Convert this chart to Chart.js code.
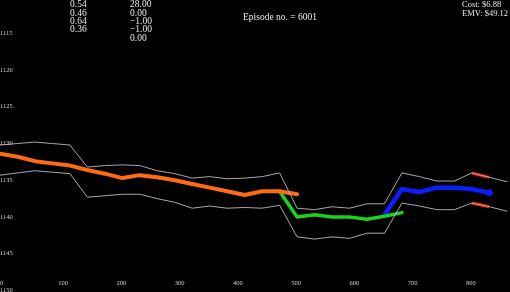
<!DOCTYPE html>
<html>
<head>
<meta charset="utf-8">
<script src="https://cdn.jsdelivr.net/npm/chart.js@4/dist/chart.umd.min.js"></script>
<style>
    body { margin: 0; background: #000; }
    #wrap { width: 510px; height: 292px; position: relative; }
</style>
</head>
<body>
<div id="wrap"><canvas id="episodeChart" width="510" height="292"></canvas></div>
<script>
// step positions along the x axis
const steps = [0, 30, 60, 90, 120, 150, 180, 210, 240, 270, 300, 330, 360, 390, 420,
    450, 480, 510, 540, 570, 600, 630, 660, 690, 720, 750, 780, 810, 840, 870];

const upperBand = [1130.2, 1130.0, 1129.8, 1130.0, 1130.2, 1133.2, 1133.0, 1132.9, 1133.0, 1133.7,
    1134.1, 1134.7, 1134.5, 1134.8, 1134.7, 1134.5, 1134.0, 1138.8, 1139.0, 1138.6,
    1138.8, 1138.2, 1138.2, 1134.0, 1134.5, 1135.1, 1135.1, 1134.0, 1134.6, 1135.2];
const lowerBand = [1134.3, 1134.0, 1133.7, 1133.9, 1134.1, 1137.3, 1137.1, 1136.9, 1136.9, 1137.5,
    1138.0, 1138.8, 1138.5, 1138.8, 1138.7, 1138.8, 1138.4, 1142.7, 1143.0, 1142.7,
    1142.9, 1142.2, 1142.2, 1138.1, 1138.5, 1139.0, 1139.0, 1138.1, 1138.6, 1139.2];

const orangeSeries = [1131.4, 1131.8, 1132.4, 1132.7, 1133.0, 1133.6, 1134.1, 1134.7, 1134.3, 1134.6,
    1135.0, 1135.5, 1136.0, 1136.5, 1137.0, 1136.5, 1136.5, 1136.9];
const greenStart = 16;
const greenSeries = [1136.5, 1140.0, 1139.7, 1140.0, 1140.0, 1140.3, 1139.9, 1139.4];
const blueStart = 22;
const blueSeries = [1139.7, 1136.2, 1136.6, 1136.0, 1136.0, 1136.2, 1136.7];
const redStart = 27;
const redUpper = [1134.0, 1134.6];
const redLower = [1138.1, 1138.6];

const xTicks = [0, 100, 200, 300, 400, 500, 600, 700, 800];
const yTicks = [1115, 1120, 1125, 1130, 1135, 1140, 1145, 1150];

const probColumn = ['0.54', '0.46', '0.64', '0.36'];
const valueColumn = ['28.00', '0.00', '\u22121.00', '\u22121.00', '0.00'];
const titleText = 'Episode no. = 6001';
const moneyLines = ['Cost: $6.88', 'EMV: $49.12'];

function toPoints(values, start) {
    return values.map((v, i) => ({ x: steps[start + i], y: v }));
}

function lineSet(values, start, color, width, extra) {
    return Object.assign({
        data: toPoints(values, start),
        borderColor: color,
        backgroundColor: color,
        borderWidth: width,
        pointRadius: 0,
        borderCapStyle: 'round',
        borderJoinStyle: 'round',
        tension: 0,
        fill: false
    }, extra || {});
}

const overlayText = {
    id: 'overlayText',
    afterDraw(chart) {
        const ctx = chart.ctx;
        const xs = chart.scales.x;
        const ys = chart.scales.y;
        ctx.save();

        // tick labels sit inside the plot
        ctx.fillStyle = '#d0d0d0';
        ctx.font = '6.5px "Liberation Serif"';
        ctx.textBaseline = 'middle';
        ctx.textAlign = 'left';
        yTicks.forEach(t => ctx.fillText(String(t), 0, ys.getPixelForValue(t)));
        xTicks.forEach(t => ctx.fillText(String(t), xs.getPixelForValue(t), chart.chartArea.bottom - 9));

        ctx.fillStyle = '#e8e8e8';
        ctx.font = '9.5px "Liberation Serif"';
        probColumn.forEach((s, i) => ctx.fillText(s, 70, 4.8 + i * 8.35));
        valueColumn.forEach((s, i) => ctx.fillText(s, 130, 4.8 + i * 8.35));
        ctx.textAlign = 'center';
        ctx.fillText(titleText, 280, 17);
        ctx.textAlign = 'left';
        ctx.font = '8.5px "Liberation Serif"';
        moneyLines.forEach((s, i) => ctx.fillText(s, 462, 5 + i * 8.6));

        ctx.restore();
    }
};

const chart = new Chart(document.getElementById('episodeChart').getContext('2d'), {
    type: 'line',
    data: {
        datasets: [
            lineSet(upperBand, 0, '#a8a8a8', 1),
            lineSet(lowerBand, 0, '#a8a8a8', 1),
            lineSet(orangeSeries, 0, '#ff6a13', 4),
            lineSet(greenSeries, greenStart, '#1ad21a', 3.5),
            lineSet(blueSeries, blueStart, '#0a1eff', 4.5, {
                pointRadius: ctx => ctx.dataIndex === blueSeries.length - 1 ? 3.5 : 0,
                pointBorderWidth: 0
            }),
            lineSet(redUpper, redStart, '#ff1a00', 3, { borderCapStyle: 'butt' }),
            lineSet(redLower, redStart, '#ff1a00', 3, { borderCapStyle: 'butt' })
        ]
    },
    options: {
        responsive: false,
        animation: false,
        layout: { padding: 0, autoPadding: false },
        scales: {
            x: { type: 'linear', min: 0, max: 875.5, display: false },
            y: { type: 'linear', min: 1110.47, max: 1150.2, reverse: true, display: false }
        },
        plugins: {
            legend: { display: false },
            tooltip: { enabled: false }
        }
    },
    plugins: [overlayText]
});
</script>
</body>
</html>
